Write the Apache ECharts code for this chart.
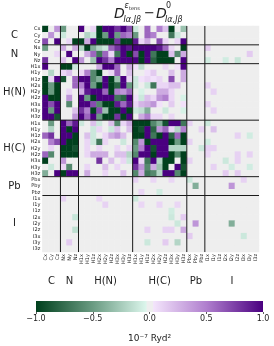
<!DOCTYPE html>
<html><head><meta charset="utf-8">
<script src="https://cdn.jsdelivr.net/npm/echarts@6/dist/echarts.min.js"></script>
<style>html,body{margin:0;padding:0;background:#fff}#c{width:274px;height:346px}</style>
</head><body><div id="c"></div>
<script>
// ---- category / tick labels ----
const labels = ['Cx','Cy','Cz','Nx','Ny','Nz',
  'H1x','H1y','H1z','H2x','H2y','H2z','H3x','H3y','H3z',
  'H1x','H1y','H1z','H2x','H2y','H2z','H3x','H3y','H3z',
  'Pbx','Pby','Pbz','I1x','I1y','I1z','I2x','I2y','I2z','I3x','I3y','I3z'];
const groupNames = ['C','N','H(N)','H(C)','Pb','I'];
const groupCenterIndex = [1,4,10,19,25,31];
const groupBoundaries = [3,6,15,24,27];
const colorbarTicks = [-1,-0.5,0,0.5,1];

// ---- values (10^-7 Ryd^2), rows grouped by atom block ----
const C_rows = [
 [-1,0,0.4,-0.5,0,0,1,0,0.1,-1,1,1,0.8,1,0.7, -0.1,0,0.6,0,0.5,0.2,-1,0,-0.3, 0,0,0,0,0,0,0,0,0,0,0,0],
 [0,0.4,0,-0.1,0,0,0,-0.2,-0.1,-1,-0.5,1,-0.5,0.6,0.5, -0.5,0,0.6,0.5,0,0,-0.7,-0.1,0, 0,0,0,0,0,0,0,0,0,0,0,0],
 [0.7,0,1,0,0.1,-1,-1,0.3,1,-1,-1,-1,0.8,-1,-1, 0.9,0.1,0.3,0,0.7,0.1,0,0.1,1, 0,0,0,0,0,0,0,0,0,0,0,0]
];
const N_rows = [
 [-0.5,0,0,0.3,0,0.3,-0.2,-1,-0.4,-0.2,-0.1,0.6,0.8,1,0.9, 1,1,1,1,0.9,0.6,0.1,0,-1, 0,0,0,0.15,0,0,0,0,0,0,0,0],
 [0,0,0.1,0,1,0,0,0.3,0.6,-0.7,0.6,0.1,-0.7,1,-1, 0.7,-1,1,-0.7,-1,-1,0.2,-0.6,0.3, 0,0,0,0,0,0,0,0,0,0,0.15,0],
 [0.8,0,0,0.2,0,1,0.4,0,-0.3,1,0.8,0.5,1,1,1, 1,-1,1,-0.8,-1,-1,-1,0,1, 0,0,0,-0.08,0,0,-0.08,0,-0.12,0,0,0]
];
const HN_rows = [
 [1,0,0,-1,-1,-0.1,0,0,0,0.3,1,1,0.6,0,0.3, 0.05,-0.15,0,0,0,0.1,0,0.05,1, 0,0,0,0,0,0,0,0,0,0,0,0],
 [0,-0.2,0,0.1,0.2,0,0.1,0.5,-0.6,-1,0,0.1,0.6,0,0.2, 0,0,0.05,0.15,0,0,0.2,0,0.3, 0,0,0,0,0,0,0,0,0,0,0,0],
 [-1,0.1,1,-0.9,0,0.6,1,1,-0.6,-0.4,1,-1,-0.3,1,0.1, -0.1,0.05,0.1,0.05,0.1,0,0.7,0,0.3, 0,0,0,0,0,0,0,0,0,0,0,0],
 [-1,-0.5,-1,0,0,0.6,0.5,1,-0.5,-1,1,-1,-0.8,1,-0.5, -0.1,0,-0.1,-0.7,0.1,0.1,0.2,0.2,0, 0,0,0,0.12,0,0,0,0,0,0,0,0],
 [-1,-0.5,-1,0,0.1,0,0.3,0.9,1,1,0.6,-1,0.5,0.4,0.6, 0,-0.05,0,0,0.3,0.3,0.1,0,0, 0,0,0,0,0.12,0,0,0,0,0,0,0],
 [1,-1,-1,0,0.4,0,1,-0.5,-1,1,1,1,-0.7,-0.8,1, 0.05,-0.1,0.2,0.1,0.4,0.5,0.1,0,-0.05, 0,0,0,0,0,0,0,0,0,0,0,0],
 [1,0.7,1,0,-0.6,0,1,1,0.7,-0.6,-1,-1,0.9,0.6,0.9, 0.1,0.25,0.3,0.4,0.05,0,0.15,0,0.05, 0,0,0,0.12,0,0,0,0,0,0,0,0],
 [1,-0.5,1,0,0,0.2,0.8,0.5,-1,0.7,-0.3,-1,-1,1,-1, -0.1,-0.15,-0.4,0,0,-0.1,0,0,-0.05, 0,0,0,0,0.12,0,0,0,0,0,0,0],
 [1,1,-0.9,0,0,0.4,1,0.6,1,-0.5,-1,-1,0.8,-1,1, 0,0.3,0.5,0.1,0.1,0,0.1,0,0, 0,0,0,0,0,0,0,0,0,0,0,0]
];
const HC_rows = [
 [0,-0.5,0,1,0.6,0.9,-0.1,0,0.2,-0.1,0,0.2,-0.6,0.1,0.3, -1,-1,-1,-0.6,-0.4,-0.9,1,1,-0.7, 0.12,0,0,-0.1,0,0,0,0,0,0,0,0],
 [0,-0.2,0,1,-1,1,0,0,-0.1,0.1,0,-0.1,0.2,0,0.2, -1,-0.9,1,-0.8,0.4,0.6,0.1,-0.2,0.5, 0,0,0.12,0,0.2,0,0,0,0,0,0,0],
 [0.6,0.8,0,1,1,-1,0,0.2,-0.1,0,0.1,0.3,0.4,0.2,0, -1,-1,1,-0.7,-1,1,-0.8,0.6,-1, 0,0,0,0,0,0,0,0,0.12,0,-0.08,0],
 [0,0.5,0.7,1,-1,-1,0,0.1,-0.1,-0.7,0.1,0,0,-0.1,0, -0.6,0.4,-1,1,1,1,-1,-0.5,-1, 0.12,0,0,-0.08,0,0,0,0,0,0,0,0],
 [0,0.1,0,-1,-1,-0.9,0,0.1,0,0.1,0,0,0.1,0,0.1, -0.5,0.5,1,-0.9,1,1,-0.2,-0.2,-0.2, 0,0,-0.1,0.12,0.12,0,0,0,0,0,0,0],
 [0.6,-0.6,0,-1,-1,-1,0,0.1,0.3,0.3,0.3,0,0.2,0.2,-0.2, -0.6,1,1,-1,1,1,-1,-0.6,-1, 0,0,0,0.1,0,0,0,0,0.12,0,0.12,0],
 [-1,0,0,0.4,0,0,0,0,0,0.8,0,0.2,0,0.1,-0.1, 1,0.1,-0.7,1,-0.2,-1,-1,0,-1, 0.12,0,0,0,0,0,-0.1,0,0.12,0,0,0],
 [0,-0.1,0,0.1,-0.6,0,0,0.1,0,0,0.2,0,0.1,0,0, 0.8,0.4,-0.6,0.3,-0.3,-1,0,1,-0.9, 0,0,0,0,0.12,0,0,-0.08,0,0,-0.08,0],
 [-0.4,0,1,-1,1,1,0,0.3,0,0,0.1,0,0,0.2,0, -0.6,0.3,-0.7,-0.6,-0.2,1,1,-0.6,-1, 0,0,0,0,0,0,0.15,0,0.15,0,0,0]
];
const Pb_rows = [
 [0,0,0,0,0,0,0,0,0,0,0,0,0,0,0, 0.12,0,0,0.1,0,0,0.1,0,0, -0.1,0,0,0,0,0,0,0,0,0.12,0,0],
 [0,0,0,0,0,0,0,0,0,0,0,0,0,0,0, 0,0,0,0,0,0,0,0,0, 0,-0.4,0,0,0,0,0,0.4,0,0,0,0],
 [0,0,0,0,0,0,0,0,0,0,0,0,0,0,0, 0,0.1,0,0,-0.08,0,0,0,0, 0,0,0,0,0,0,0,0,0,0,0,0]
];
const I_rows = [
 [0,0,0,0.12,0,0,0,0,0,0.1,0,0,0,0,0, -0.1,0,0,0,0,0,0,0,0, 0,0,0,0,0,0,0,0,0,0,0,0],
 [0,0,0,0,0,0,0,0,0,0,0.12,0,0,0,0, 0,0.1,0,0,0.1,0,0,0.1,0, 0,0,0,0,0,0,0,0,0,0,0,0],
 [0,0,0,0,0,0,0,0,0,0,0,0,0,0,0, 0,0,0,0,0,0,-0.08,0,0, 0,0,0,0,0,0,0,0,0,0,0,0],
 [0,0,0,0,0,-0.12,0,0,0,0,0,0,0,0,0, 0,0,0,0,0,0,-0.1,0,0.15, 0,0,0,0,0,0,0,0,0,0,0,0],
 [0,0,0,0,0,0,0,0,0,0,0,0,0,0,0, 0,0,0,0,0,0,0,-0.1,0, 0,0.4,0,0,0,0,0,-0.4,0,0,0,0],
 [0,0,0,0,0,-0.15,0,0,0,0,0,0,0,0,0, 0,0,0.12,0,0,0.12,0.12,0,0.3, 0,0,0,0,0,0,0,0,0,0,0,0],
 [0,0,0,0,0,0,0,0,0,0,0,0,0,0,0, 0,0,0,0,0,0,0,0,0, 0.15,0,0,0,0,0,0,0,0,-0.1,0,0],
 [0,0,0,0,0.15,0,0,0,0,0,0,0,0,0,0, 0,0,-0.1,0,0,0.15,0,-0.2,0, 0,0,0,0,0,0,0,0,0,0,0,0],
 [0,0,0,0,0,0,0,0,0,0,0,0,0,0,0, 0,0,0,0,0,0,0,0,0, 0,0,0,0,0,0,0,0,0,0,0,0]
];

// ---- colour map ----
const cmapStops = [[-1,'#00401d'],[-0.5,'#6a9b82'],[-0.03,'#dcf6ec'],[-0.022,'#eeeeee'],[0.028,'#eeeeee'],[0.036,'#f3e4fb'],[0.5,'#b07fce'],[1,'#4a0080']];
function hex2rgb(h){return [parseInt(h.substr(1,2),16),parseInt(h.substr(3,2),16),parseInt(h.substr(5,2),16)];}
function cmap(v){
  for(let i=0;i<cmapStops.length-1;i++){
    const a=cmapStops[i], b=cmapStops[i+1];
    if(v<=b[0]){const t=(v-a[0])/(b[0]-a[0]);const ca=hex2rgb(a[1]),cb=hex2rgb(b[1]);
      return 'rgb('+ca.map((x,k)=>Math.round(x+(cb[k]-x)*t)).join(',')+')';}
  }
  return cmapStops[cmapStops.length-1][1];
}
const paletteN = 401;
const palette = [];
for(let i=0;i<paletteN;i++) palette.push(cmap(-1+2*i/(paletteN-1)));

const allRows = [].concat(C_rows,N_rows,HN_rows,HC_rows,Pb_rows,I_rows);
const heatData = [];
allRows.forEach((row,r)=>row.forEach((v,c)=>heatData.push([c,r,v])));

const FONT='DejaVu Sans';
const chart = echarts.init(document.getElementById('c'),null,{renderer:'canvas'});
const groupLabel = (v,i)=>{const k=groupCenterIndex.indexOf(i);return k>=0?groupNames[k]:'';};

chart.setOption({
  animation:false,
  backgroundColor:'#ffffff',
  grid:[{left:40,top:26,width:219,height:226},{left:36,top:301,width:227,height:11}],
  xAxis:[
    {type:'category',gridIndex:0,data:labels,position:'bottom',axisLine:{show:false},axisTick:{show:false},splitLine:{show:false},
     axisLabel:{interval:0,rotate:90,fontSize:5,margin:2,color:'#222',fontFamily:FONT}},
    {type:'category',gridIndex:0,data:labels,position:'bottom',offset:24,axisLine:{show:false},axisTick:{show:false},
     axisLabel:{interval:0,fontSize:10,margin:0,color:'#222',fontFamily:FONT,formatter:groupLabel,verticalAlign:'top'}},
    {type:'value',gridIndex:1,min:-1,max:1,interval:0.5,axisLine:{show:false},splitLine:{show:false},
     axisTick:{show:true,length:2,lineStyle:{color:'#333',width:0.8}},
     axisLabel:{fontSize:8,margin:3,color:'#222',fontFamily:FONT,formatter:v=>(v<0?'\u2212':'')+Math.abs(v).toFixed(1)},
     name:'10\u207b\u2077 Ryd\u00b2',nameLocation:'middle',nameGap:22,nameTextStyle:{fontSize:9,color:'#222',fontFamily:FONT}}
  ],
  yAxis:[
    {type:'category',gridIndex:0,data:labels,inverse:true,axisLine:{show:false},axisTick:{show:false},splitLine:{show:false},
     axisLabel:{interval:0,fontSize:5,margin:2,color:'#222',fontFamily:FONT}},
    {type:'category',gridIndex:0,data:labels,inverse:true,position:'left',offset:28,axisLine:{show:false},axisTick:{show:false},
     axisLabel:{interval:0,fontSize:10,margin:0,color:'#222',fontFamily:FONT,align:'center',formatter:groupLabel}},
    {type:'value',gridIndex:1,min:0,max:1,show:false}
  ],
  visualMap:{type:'continuous',show:false,min:-1,max:1,seriesIndex:0,dimension:2,inRange:{color:palette}},
  series:[
    {type:'heatmap',xAxisIndex:0,yAxisIndex:0,data:heatData,itemStyle:{borderWidth:0},emphasis:{disabled:true}},
    {type:'custom',xAxisIndex:0,yAxisIndex:0,data:groupBoundaries.map(b=>[b,b]),z:5,silent:true,
     renderItem:function(params,api){
       const p=api.coord([api.value(0),api.value(1)]);const s=api.size([1,1]);
       const cs=params.coordSys;const bx=p[0]-s[0]/2, by=p[1]-s[1]/2;
       const st={stroke:'#1a1a1a',lineWidth:1};
       return {type:'group',children:[
         {type:'line',shape:{x1:bx,y1:cs.y,x2:bx,y2:cs.y+cs.height},style:st},
         {type:'line',shape:{x1:cs.x,y1:by,x2:cs.x+cs.width,y2:by},style:st}]};
     }},
    {type:'custom',xAxisIndex:2,yAxisIndex:2,data:[[-1,0]],silent:true,
     renderItem:function(params,api){
       const a=api.coord([-1,1]), b=api.coord([1,0]);
       return {type:'rect',shape:{x:a[0],y:a[1],width:b[0]-a[0],height:b[1]-a[1]},
         style:{fill:new echarts.graphic.LinearGradient(0,0,1,0,cmapStops.map(s=>({offset:(s[0]+1)/2,color:s[1]})))}};
     }}
  ],
  graphic:[
    {type:'text',x:114,y:14,style:{text:'D',font:'italic 14px '+FONT,fill:'#222',verticalAlign:'middle'}},
    {type:'text',x:124.5,y:6,style:{text:'\u03b5',font:'italic 8px '+FONT,fill:'#222',verticalAlign:'middle'}},
    {type:'text',x:129,y:8.5,style:{text:'tens',font:'5px '+FONT,fill:'#222',verticalAlign:'middle'}},
    {type:'text',x:123.5,y:19.5,style:{text:'I\u03b1,J\u03b2',font:'italic 8px '+FONT,fill:'#222',verticalAlign:'middle'}},
    {type:'text',x:144,y:14,style:{text:'\u2212',font:'13px '+FONT,fill:'#222',verticalAlign:'middle'}},
    {type:'text',x:156,y:14,style:{text:'D',font:'italic 14px '+FONT,fill:'#222',verticalAlign:'middle'}},
    {type:'text',x:166,y:6,style:{text:'0',font:'8px '+FONT,fill:'#222',verticalAlign:'middle'}},
    {type:'text',x:165,y:19.5,style:{text:'I\u03b1,J\u03b2',font:'italic 8px '+FONT,fill:'#222',verticalAlign:'middle'}}
  ]
});
</script></body></html>
